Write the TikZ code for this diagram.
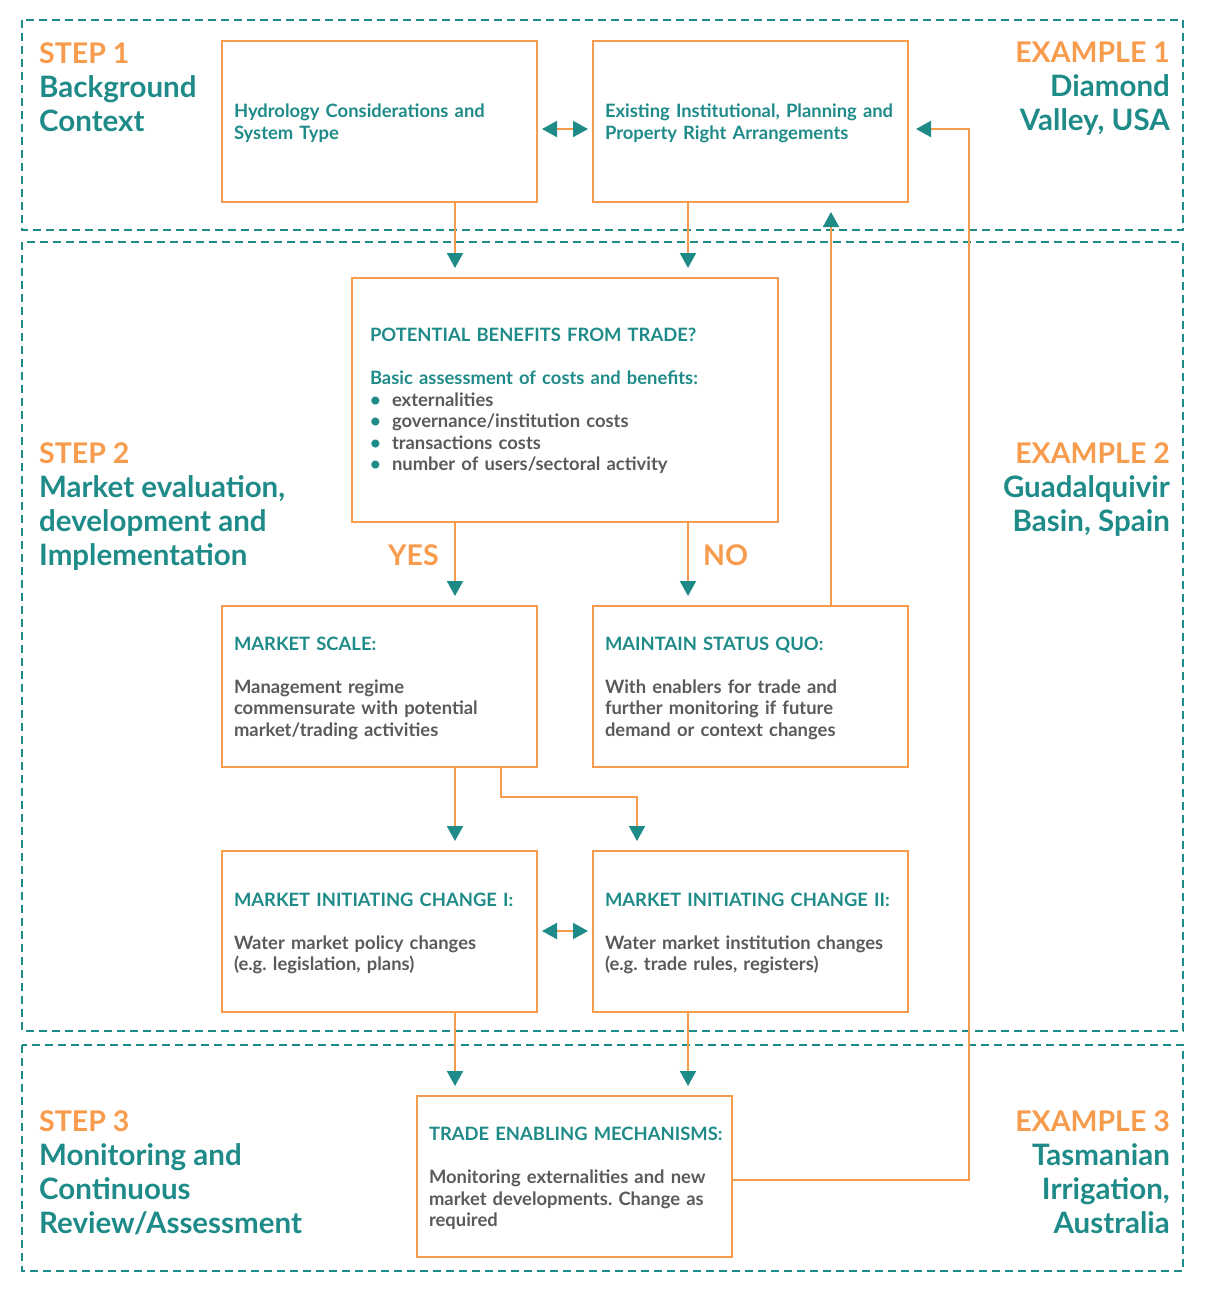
\documentclass[tikz,border=0pt]{standalone}
\usepackage{fontspec}
\setmainfont{Lato}
\usetikzlibrary{arrows.meta}
\definecolor{orng}{HTML}{F79B4D}
\definecolor{tealc}{HTML}{1F8B89}
\definecolor{txtgray}{HTML}{5A5A5A}
\newcommand{\boxfont}{\fontsize{18.4}{21.5}\selectfont\bfseries\frenchspacing\lineskiplimit=-100pt\lineskip=0pt\hyphenpenalty=10000\exhyphenpenalty=10000}
\newcommand{\bigfont}{\fontsize{29.5}{34}\selectfont\bfseries}
\newcommand{\orng}[1]{{\color{orng}\fontsize{28.5}{34}\selectfont #1}}
\newcommand{\hd}[1]{{\color{tealc}#1}}
\newcommand{\bul}{\makebox[22pt][l]{\color{tealc}\textbullet}}
\newcommand{\pad}[2]{\leftskip=#2\relax\rule{0pt}{#1}}
\begin{document}
\begin{tikzpicture}[x=1pt,y=-1pt,
  frame/.style={draw=tealc,line width=1.5pt,dash pattern=on 8pt off 5pt},
  box/.style={draw=orng,line width=2pt,minimum width=315pt,minimum height=161pt,
    text width=315pt,inner xsep=0pt,inner ysep=0pt,align=left,font=\boxfont,
    text=txtgray,anchor=north west},
  conn/.style={draw=orng,line width=2pt},
  tip/.style={-{Triangle[length=15pt,width=16pt,color=tealc]}},
  arr/.style={conn,tip,shorten >=9pt},
  dbl/.style={conn,{Triangle[length=15pt,width=16pt,color=tealc]}-{Triangle[length=15pt,width=16pt,color=tealc]},shorten >=4pt,shorten <=4pt},
  lefttxt/.style={anchor=north west,inner sep=0pt,align=left,font=\bigfont,text=tealc},
  righttxt/.style={anchor=north east,inner sep=0pt,align=right,font=\bigfont,text=tealc},
  yn/.style={anchor=base west,inner sep=0pt,font=\bigfont,text=orng}]
\useasboundingbox (0,0) rectangle (1207,1294);

% frames
\draw[frame] (22,20) rectangle (1183,230);
\draw[frame] (22,242) rectangle (1183,1031);
\draw[frame] (22,1045) rectangle (1183,1271);

% side texts
\node[lefttxt] (s1) at (39,42) {\orng{STEP 1}\\Background\\Context};
\node[righttxt] (e1) at (1170,42) {\orng{EXAMPLE 1}\\Diamond\\Valley, USA};
\node[lefttxt] (s2) at (39,442) {\orng{STEP 2}\\Market evaluation,\\development and\\Implementation};
\node[righttxt] (e2) at (1170,442) {\orng{EXAMPLE 2}\\Guadalquivir\\Basin, Spain};
\node[lefttxt] (s3) at (39,1110) {\orng{STEP 3}\\Monitoring and\\Continuous\\Review/Assessment};
\node[righttxt] (e3) at (1170,1110) {\orng{EXAMPLE 3}\\Tasmanian\\Irrigation,\\Australia};

% boxes
\node[box] (hyd) at (221,40) {\pad{17.3pt}{12pt}\hd{Hydrology Considerations and\\System Type}\par};
\node[box] (exist) at (592,40) {\pad{17.3pt}{12pt}\hd{Existing Institutional, Planning and\\Property Right Arrangements}\par};
\node[box,minimum width=426pt,minimum height=244pt,text width=426pt] (pot) at (351,277)
  {\pad{15.3pt}{18pt}\hd{POTENTIAL BENEFITS FROM TRADE?}\\[21.5pt]
   \hd{Basic assessment of costs and benefits:}\\
   \bul externalities\\
   \bul governance/institution costs\\
   \bul transactions costs\\
   \bul number of users/sectoral activity\par};
\node[box] (ms) at (221,605) {\pad{17.3pt}{12pt}\hd{MARKET SCALE:}\\[21.5pt]Management regime\\commensurate with potential\\market/trading activities\par};
\node[box] (sq) at (592,605) {\pad{17.3pt}{12pt}\hd{MAINTAIN STATUS QUO:}\\[21.5pt]With enablers for trade and\\further monitoring if future\\demand or context changes\par};
\node[box] (mic1) at (221,850) {\pad{17.3pt}{12pt}\hd{MARKET INITIATING CHANGE I:}\\[21.5pt]Water market policy changes\\(e.g. legislation, plans)\par};
\node[box] (mic2) at (592,850) {\pad{17.3pt}{12pt}\hd{MARKET INITIATING CHANGE II:}\\[21.5pt]Water market institution changes\\(e.g. trade rules, registers)\par};
\node[box] (trade) at (416,1095) {\pad{17.3pt}{12pt}\hd{TRADE ENABLING MECHANISMS:}\\[21.5pt]Monitoring externalities and new\\market developments. Change as\\required\par};

% yes / no
\node[yn] (yes) at (388,565) {\orng{YES}};
\node[yn] (no) at (703,565) {\orng{NO}};

% helper coordinates
\coordinate (cl) at (455,0);
\coordinate (cr) at (688,0);
\coordinate (cq) at (831,0);
\coordinate (k1) at (501,797);
\coordinate (k2) at (637,797);
\coordinate (f1) at (969,1180);
\coordinate (f2) at (969,129);
\coordinate (d1) at (0,129);
\coordinate (d2) at (0,931);

% connectors
\draw[dbl] (hyd.east |- d1) -- (exist.west |- d1);
\draw[arr] (hyd.south -| cl) -- (pot.north -| cl);
\draw[arr] (exist.south -| cr) -- (pot.north -| cr);
\draw[arr] (pot.south -| cl) -- (ms.north -| cl);
\draw[arr] (pot.south -| cr) -- (sq.north -| cr);
\draw[arr] (sq.north -| cq) -- (exist.south -| cq);
\draw[arr] (ms.south -| cl) -- (mic1.north -| cl);
\draw[arr] (ms.south -| k1) -- (k1) -- (k2) -- (mic2.north -| k2);
\draw[dbl] (mic1.east |- d2) -- (mic2.west |- d2);
\draw[arr] (mic1.south -| cl) -- (trade.north -| cl);
\draw[arr] (mic2.south -| cr) -- (trade.north -| cr);
\draw[arr,shorten >=7pt] (trade.east |- f1) -- (f1) -- (f2) -- (exist.east |- f2);
\end{tikzpicture}
\end{document}
